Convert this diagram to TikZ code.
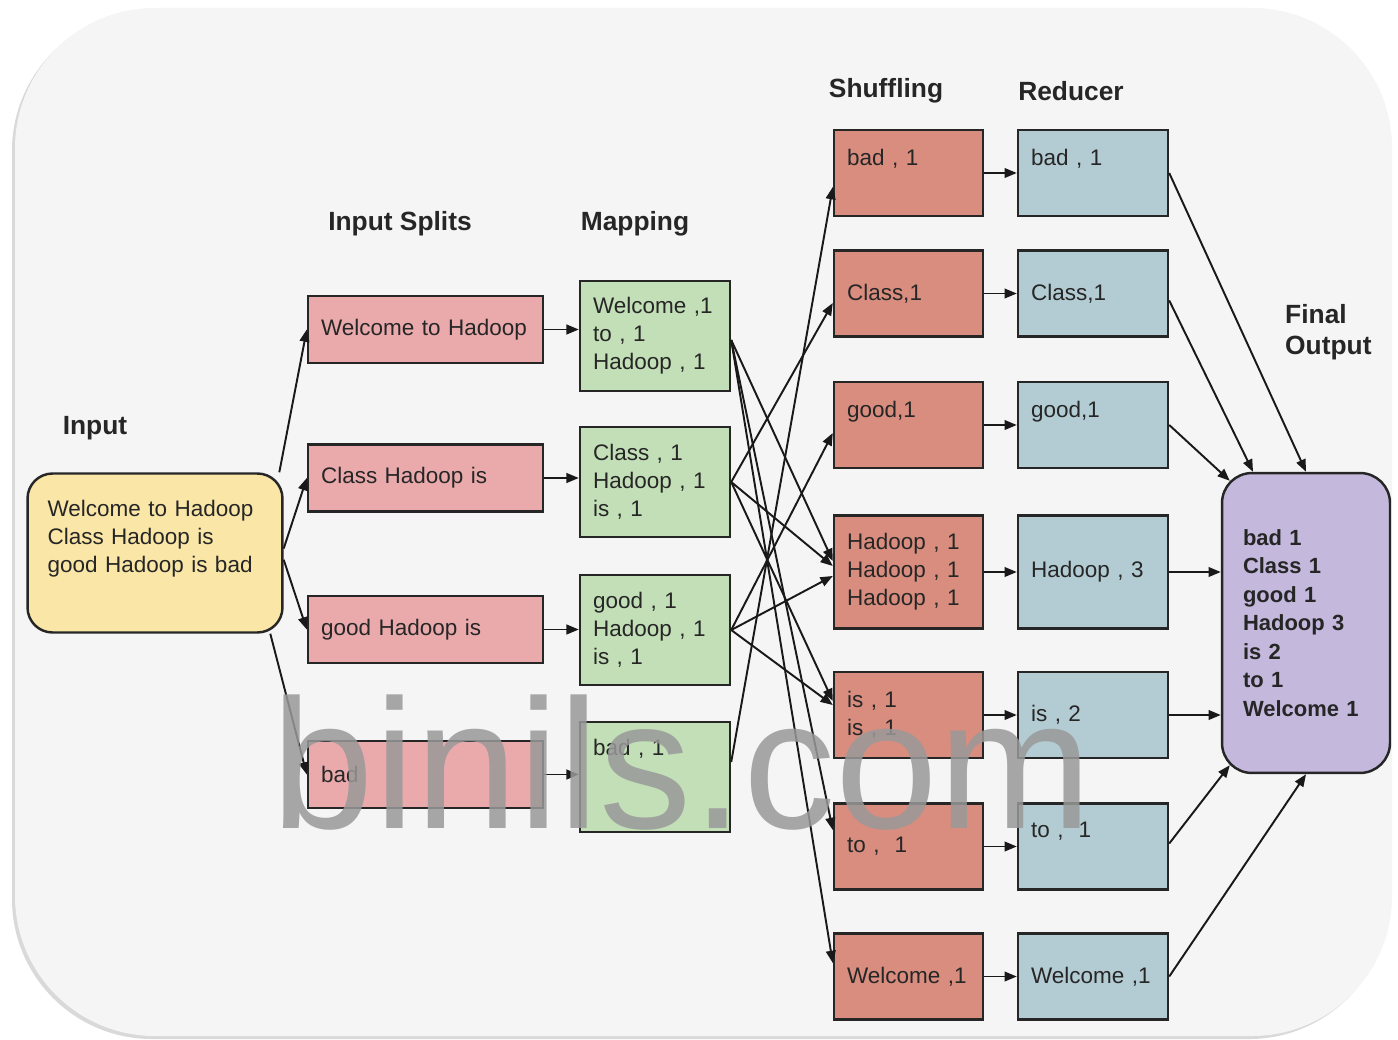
\documentclass[tikz,border=0pt]{standalone}
\usepackage{fontspec}
\setmainfont{Liberation Sans}
\usepackage{tikz}
\usetikzlibrary{arrows.meta}
\definecolor{inyellow}{RGB}{250,231,167}
\definecolor{splitpink}{RGB}{234,170,172}
\definecolor{mapgreen}{RGB}{195,223,183}
\definecolor{shufred}{RGB}{216,141,127}
\definecolor{redblue}{RGB}{179,204,211}
\definecolor{outpurple}{RGB}{196,185,221}
\definecolor{panelgray}{RGB}{245,245,245}

\begin{document}
\begin{tikzpicture}[x=0.02cm, y=-0.02cm,
    box/.style={rectangle, draw=black!85, line width=1.4pt, align=left, inner xsep=0.26cm, inner ysep=0pt,
                text=black!85, font=\fontsize{12.8}{16}\selectfont},
    lifted/.style={text depth=#1},
    inbox/.style={box, fill=inyellow, rounded corners=0.5cm, inner xsep=0.4cm, text width=4.3cm, minimum height=3.18cm},
    splitbox/.style={box, fill=splitpink, text width=4.18cm, minimum height=1.34cm},
    mapbox/.style={box, fill=mapgreen, text width=2.48cm, minimum height=2.2cm},
    shufbox/.style={box, fill=shufred, text width=2.46cm, minimum height=1.72cm},
    redbox/.style={box, fill=redblue, text width=2.48cm, minimum height=1.72cm},
    finbox/.style={box, fill=outpurple, rounded corners=0.6cm, inner xsep=0.42cm, text width=2.52cm, minimum height=6cm,
                   font=\bfseries\fontsize{12.5}{16.2}\selectfont},
    head/.style={font=\bfseries\fontsize{15}{18}\selectfont, text=black!85},
    arr/.style={-{Triangle[length=7pt,width=5.5pt]}, line width=1.1pt, black!90},
    wmark/.style={font=\fontsize{105}{105}\selectfont, text=black!40, text opacity=0.85},
  ]
  \fill[white] (0,0) rectangle (1398,1040);
  \useasboundingbox (0,0) rectangle (1398,1040);
  % panel
  \fill[black!15, rounded corners=2.8cm] (12,11) rectangle (1389,1039);
  \fill[panelgray, rounded corners=2.8cm] (15,8) rectangle (1392,1036);

  % headings
  \node[head] (hin) at (95,428) {Input};
  \node[head] (hsplit) at (400,224) {Input Splits};
  \node[head] (hmap) at (635,224) {Mapping};
  \node[head] (hshuf) at (886,91) {Shuffling};
  \node[head] (hred) at (1071,91) {Reducer};
  \node[head, align=left, anchor=west] (hout) at (1279,332) {Final\\Output};

  % input and splits
  \node[inbox, lifted=1.8cm] (in) at (155,553) {Welcome to Hadoop\\Class Hadoop is\\good Hadoop is bad};
  \node[splitbox] (is1) at (425.5,329.5) {Welcome to Hadoop};
  \node[splitbox] (is2) at (425.5,478) {Class Hadoop is};
  \node[splitbox] (is3) at (425.5,629.5) {good Hadoop is};
  \node[splitbox] (is4) at (425.5,774.5) {bad};

  % mapping
  \node[mapbox] (m1) at (655,336) {Welcome ,1\\to , 1\\Hadoop , 1};
  \node[mapbox] (m2) at (655,482) {Class , 1\\Hadoop , 1\\is , 1};
  \node[mapbox] (m3) at (655,630) {good , 1\\Hadoop , 1\\is , 1};
  \node[mapbox, lifted=1.18cm] (m4) at (655,777) {bad , 1};

  % shuffling
  \node[shufbox, lifted=0.62cm] (s1) at (908.5,173) {bad , 1};
  \node[shufbox] (s2) at (908.5,293.5) {Class,1};
  \node[shufbox, lifted=0.62cm] (s3) at (908.5,425) {good,1};
  \node[shufbox, minimum height=2.26cm] (s4) at (908.5,572) {Hadoop , 1\\Hadoop , 1\\Hadoop , 1};
  \node[shufbox] (s5) at (908.5,715) {is , 1\\is , 1};
  \node[shufbox] (s6) at (908.5,846.5) {to ,~ 1};
  \node[shufbox] (s7) at (908.5,976.5) {Welcome ,1};

  % reducer
  \node[redbox, lifted=0.62cm] (r1) at (1093,173) {bad , 1};
  \node[redbox] (r2) at (1093,293.5) {Class,1};
  \node[redbox, lifted=0.62cm] (r3) at (1093,425) {good,1};
  \node[redbox, minimum height=2.26cm] (r4) at (1093,572) {Hadoop , 3};
  \node[redbox] (r5) at (1093,715) {is , 2};
  \node[redbox, lifted=0.66cm] (r6) at (1093,846.5) {to ,~ 1};
  \node[redbox] (r7) at (1093,976.5) {Welcome ,1};

  % final output
  \node[finbox] (fo) at (1306,623) {bad 1\\Class 1\\good 1\\Hadoop 3\\is 2\\to 1\\Welcome 1};

  % input -> splits -> mapping
  \draw[arr] (in.33) -- (is1.west);
  \draw[arr] (in.2) -- (is2.west);
  \draw[arr] (in.-3) -- (is3.west);
  \draw[arr] (in.-35) -- (is4.west);
  \draw[arr] (is1.east) -- (is1.east -| m1.west);
  \draw[arr] (is2.east) -- (is2.east -| m2.west);
  \draw[arr] (is3.east) -- (is3.east -| m3.west);
  \draw[arr] (is4.east) -- (is4.east -| m4.west);

  % mapping -> shuffling
  \draw[arr] ([yshift=-0.08cm]m1.east) -- ([yshift=0.22cm]s4.west);
  \draw[arr] ([yshift=-0.08cm]m1.east) -- ([yshift=0.33cm]s6.west);
  \draw[arr] ([yshift=-0.08cm]m1.east) -- ([yshift=0.27cm]s7.west);
  \draw[arr] (m2.east) -- ([yshift=-0.19cm]s2.west);
  \draw[arr] (m2.east) -- ([yshift=0.12cm]s4.west);
  \draw[arr] (m2.east) -- ([yshift=0.28cm]s5.west);
  \draw[arr] (m3.east) -- ([yshift=-0.16cm]s3.west);
  \draw[arr] (m3.east) -- ([yshift=-0.08cm]s4.west);
  \draw[arr] (m3.east) -- ([yshift=0.2cm]s5.west);
  \draw[arr] ([yshift=0.3cm]m4.east) -- ([yshift=-0.28cm]s1.west);

  % shuffling -> reducer
  \foreach \k in {1,...,7}
    \draw[arr] (s\k.east) -- (r\k.west);

  % reducer -> final output
  \draw[arr] (r1.east) -- (fo.north);
  \draw[arr] ([yshift=-0.14cm]r2.east) -- ([xshift=-1.06cm]fo.north);
  \draw[arr] (r3.east) -- ([shift={(0.18cm,-0.18cm)}]fo.north west);
  \draw[arr] (r4.east) -- (r4.east -| fo.west);
  \draw[arr] (r5.east) -- (r5.east -| fo.west);
  \draw[arr] ([yshift=0.06cm]r6.east) -- ([shift={(0.18cm,0.18cm)}]fo.south west);
  \draw[arr] (r7.east) -- (fo.south);

  \node[wmark, anchor=base] (wm) at (682,828) {binils.com};
\end{tikzpicture}
\end{document}
